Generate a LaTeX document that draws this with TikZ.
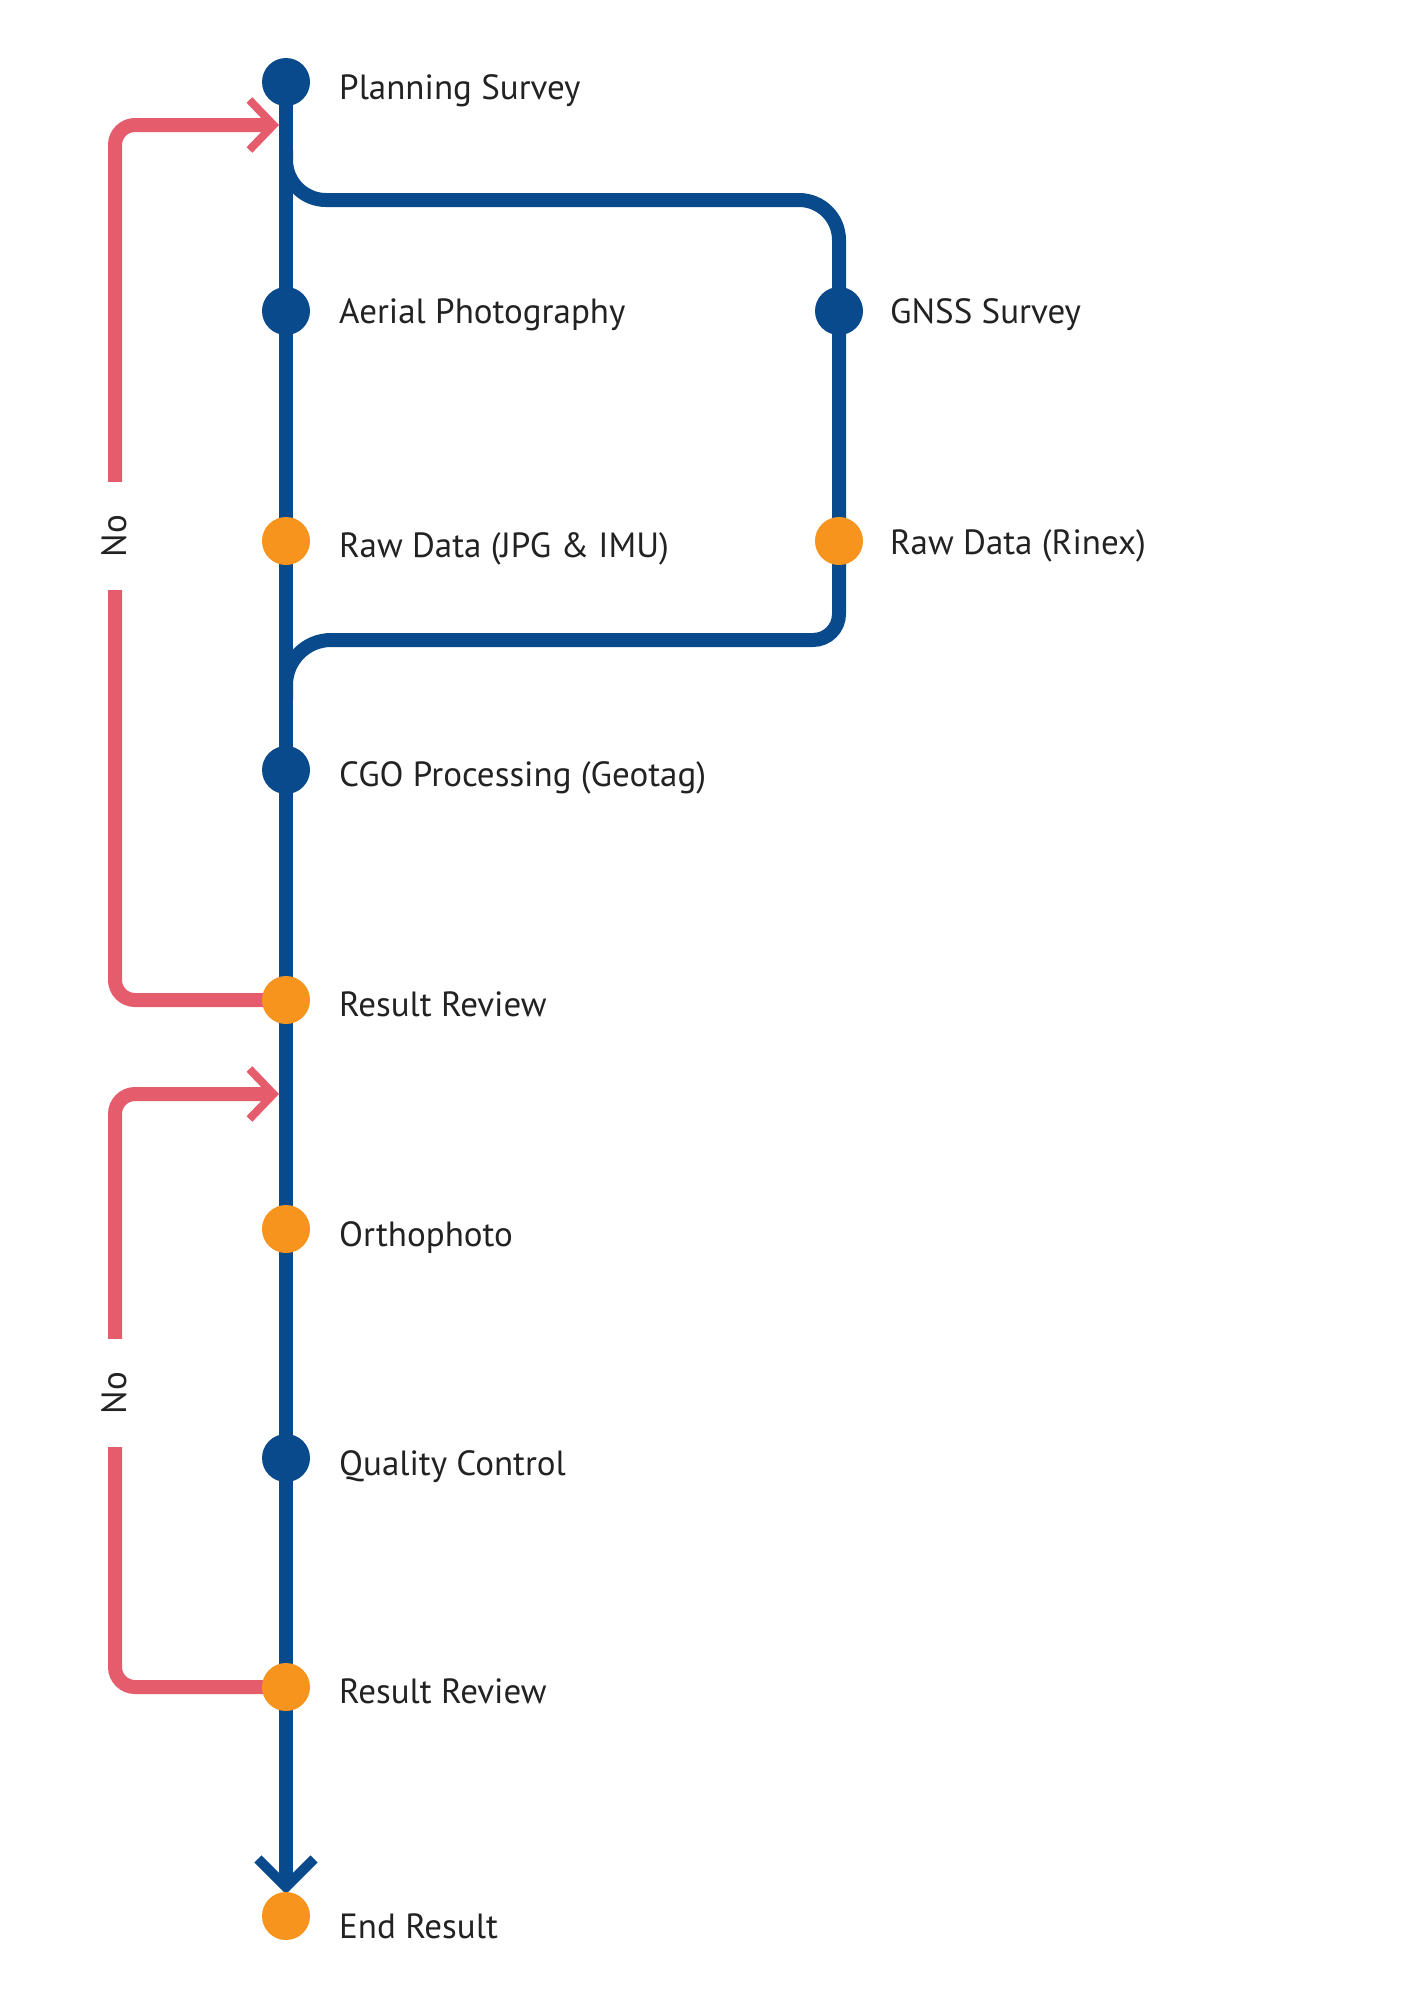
\documentclass[tikz,border=0pt]{standalone}
\usepackage{fontspec}
\setmainfont{PT Sans}
\usetikzlibrary{arrows.meta,backgrounds}
\definecolor{lineblue}{RGB}{8,74,140}
\definecolor{dotorange}{RGB}{247,148,29}
\definecolor{loopred}{RGB}{229,92,108}
\definecolor{txt}{RGB}{34,34,34}
\begin{document}
\begin{tikzpicture}[x=1pt,y=-1pt,
  bluedot/.style={circle,fill=lineblue,minimum size=48pt,inner sep=0pt},
  orangedot/.style={circle,fill=dotorange,minimum size=48pt,inner sep=0pt},
  lbl/.style={anchor=base west,inner sep=0pt,text=txt,font=\fontsize{35}{40}\selectfont},
  mainline/.style={draw=lineblue,line width=14pt},
  redline/.style={draw=loopred,line width=14pt},
  nolbl/.style={fill=white,rotate=90,text=txt,font=\fontsize{35}{40}\selectfont,inner sep=0pt,minimum width=108pt,minimum height=30pt}
]
\useasboundingbox (0,0) rectangle (1414,2000);
% stations
\node[bluedot] (plan) at (286,82) {};
\node[bluedot] (aerial) at (286,311) {};
\node[orangedot] (rawjpg) at (286,541) {};
\node[bluedot] (gnss) at (839,311) {};
\node[orangedot] (rinex) at (839,541) {};
\node[bluedot] (cgo) at (286,770) {};
\node[orangedot] (review1) at (286,1000) {};
\node[orangedot] (ortho) at (286,1229) {};
\node[bluedot] (qc) at (286,1458) {};
\node[orangedot] (review2) at (286,1687) {};
\node[orangedot] (endr) at (286,1916) {};
% labels
\node[lbl] (planL) at (339,99) {Planning Survey};
\node[lbl] (aerialL) at (339,323) {Aerial Photography};
\node[lbl] (rawjpgL) at (339,557) {Raw Data (JPG \& IMU)};
\node[lbl] (gnssL) at (890,323) {GNSS Survey};
\node[lbl] (rinexL) at (890,554) {Raw Data (Rinex)};
\node[lbl] (cgoL) at (339,786) {CGO Processing (Geotag)};
\node[lbl] (review1L) at (339,1016) {Result Review};
\node[lbl] (orthoL) at (339,1246) {Orthophoto};
\node[lbl] (qcL) at (339,1475) {Quality Control};
\node[lbl] (review2L) at (339,1703) {Result Review};
\node[lbl] (endrL) at (339,1938) {End Result};
% helper coordinates
\coordinate (endtip) at (286,1894);
\coordinate (brstart) at (286,150);
\coordinate (brtl) at (286,200);
\coordinate (brtr) at (839,200);
\coordinate (brbr) at (839,640);
\coordinate (brbl) at (286,640);
\coordinate (brend) at (286,700);
\coordinate (ret1) at (279,125);
\coordinate (c1b) at (115,1000);
\coordinate (c1t) at (115,125);
\coordinate (ret2) at (279,1094);
\coordinate (c2b) at (115,1687);
\coordinate (c2t) at (115,1094);
\begin{scope}[on background layer]
  % red loops
  \draw[redline,rounded corners=20,-{Straight Barb[length=24pt,width=50pt,line width=8pt]}]
    (review1.center) -- (c1b) -- (c1t) -- (ret1);
  \draw[redline,rounded corners=20,-{Straight Barb[length=24pt,width=50pt,line width=8pt]}]
    (review2.center) -- (c2b) -- (c2t) -- (ret2);
  % main line
  \draw[mainline,-{Straight Barb[length=28pt,width=56pt,line width=10pt]}] (plan.center) -- (endtip);
  % branch
  \draw[mainline,line cap=round,rounded corners=40] (brstart) -- (brtl) -- (brtr) -- (gnss.center) -- (rinex.center);
  \draw[mainline] (rinex.center) [rounded corners=26] -- (brbr) [rounded corners=45] -- (brbl) -- (brend);
\end{scope}
\node[nolbl] (no1) at (114,536) {No};
\node[nolbl] (no2) at (114,1393) {No};
\end{tikzpicture}
\end{document}
